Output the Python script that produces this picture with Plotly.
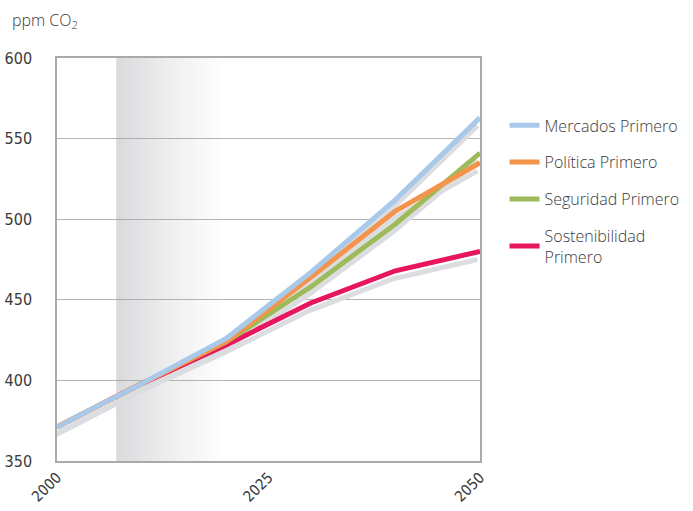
import plotly.graph_objects as go

# ---- data ----
years = [2000, 2010, 2020, 2030, 2040, 2050]
series_names = ["Mercados Primero", "Política Primero", "Seguridad Primero", "Sostenibilidad<br>Primero"]
mercados = [371, 398, 426, 467, 512, 563]
politica = [371, 398, 424, 464, 505, 535]
seguridad = [371, 398, 424, 458, 497, 541]
sostenibilidad = [371, 398, 422, 448, 468, 480]
band_years = [2007, 2020]
y_ticks = [350, 400, 450, 500, 550, 600]
x_ticks = [2000, 2025, 2050]

colors = ["#a8c9ea", "#f4934a", "#9dbb5a", "#e8175d"]
shadow_color = "#dcdde0"
font_family = "'Open Sans', Lato, sans-serif"
tick_family = "'DejaVu Sans Condensed', 'Liberation Sans Narrow', Lato, sans-serif"
text_color = "#3a3a3a"

all_series = [mercados, politica, seguridad, sostenibilidad]

fig = go.Figure()

# shaded band: semi-transparent horizontal gradient (grid stays visible through it)
fig.add_trace(go.Scatter(
    x=[band_years[0], band_years[1], band_years[1], band_years[0], band_years[0]],
    y=[y_ticks[0], y_ticks[0], y_ticks[-1], y_ticks[-1], y_ticks[0]],
    mode="lines", line=dict(width=0), fill="toself",
    fillgradient=dict(type="horizontal",
                      colorscale=[[0, "rgba(160,162,168,0.40)"],
                                  [0.5, "rgba(160,162,168,0.17)"],
                                  [1, "rgba(160,162,168,0)"]]),
    hoverinfo="skip", showlegend=False))

# shadow lines on hidden overlay axes with a slightly offset range
for s in all_series:
    fig.add_trace(go.Scatter(x=years, y=s, mode="lines", xaxis="x2", yaxis="y2",
                             line=dict(color=shadow_color, width=5),
                             hoverinfo="skip", showlegend=False))

# colored lines on a second hidden overlay with the same range as the visible axes
for i in [3, 2, 1, 0]:
    fig.add_trace(go.Scatter(x=years, y=all_series[i], mode="lines", name=series_names[i],
                             xaxis="x3", yaxis="y3",
                             line=dict(color=colors[i], width=5),
                             legendrank=i + 1, legendgroup=str(i)))

x_range = [2000, 2050]
y_range = [350, 600]

fig.update_layout(
    width=693, height=511,
    margin=dict(l=57, r=213, t=58, b=50, autoexpand=False),
    paper_bgcolor="white", plot_bgcolor="white",
    font=dict(family=font_family, color=text_color, size=15),
    xaxis=dict(range=x_range, tickvals=x_ticks, ticktext=[str(v) for v in x_ticks],
               tickangle=-45, showgrid=False, zeroline=False, automargin=False,
               showline=True, linecolor="#aaaaaa", linewidth=1.5, mirror=True,
               ticks="", tickfont=dict(size=15, family=tick_family)),
    yaxis=dict(range=y_range, tickvals=y_ticks, showgrid=True, gridcolor="#b4b4b4",
               gridwidth=1.2, zeroline=False, automargin=False,
               showline=True, linecolor="#aaaaaa", linewidth=1.5, mirror=True,
               ticks="", ticklabelstandoff=20,
               tickfont=dict(size=16, family=tick_family)),
    xaxis2=dict(range=[x_range[0] + 0.3, x_range[1] + 0.3], overlaying="x", visible=False),
    yaxis2=dict(range=[y_range[0] + 5, y_range[1] + 5], overlaying="y", visible=False),
    xaxis3=dict(range=x_range, overlaying="x", visible=False),
    yaxis3=dict(range=y_range, overlaying="y", visible=False),
    legend=dict(x=1.058, xanchor="left", y=0.875, yanchor="top",
                font=dict(size=16, color=text_color, family=font_family, weight=300),
                tracegroupgap=13, bgcolor="rgba(0,0,0,0)"),
    annotations=[dict(text="ppm CO<sub>2</sub>", xref="paper", yref="paper",
                      x=-0.111, y=1.094, xanchor="left", yanchor="middle", showarrow=False,
                      font=dict(size=16, color=text_color, family=font_family, weight=300))],
    showlegend=True,
)

fig.write_html("out.html", config={"displayModeBar": False},
               post_script="document.body.style.margin='0';document.body.style.padding='0';")
